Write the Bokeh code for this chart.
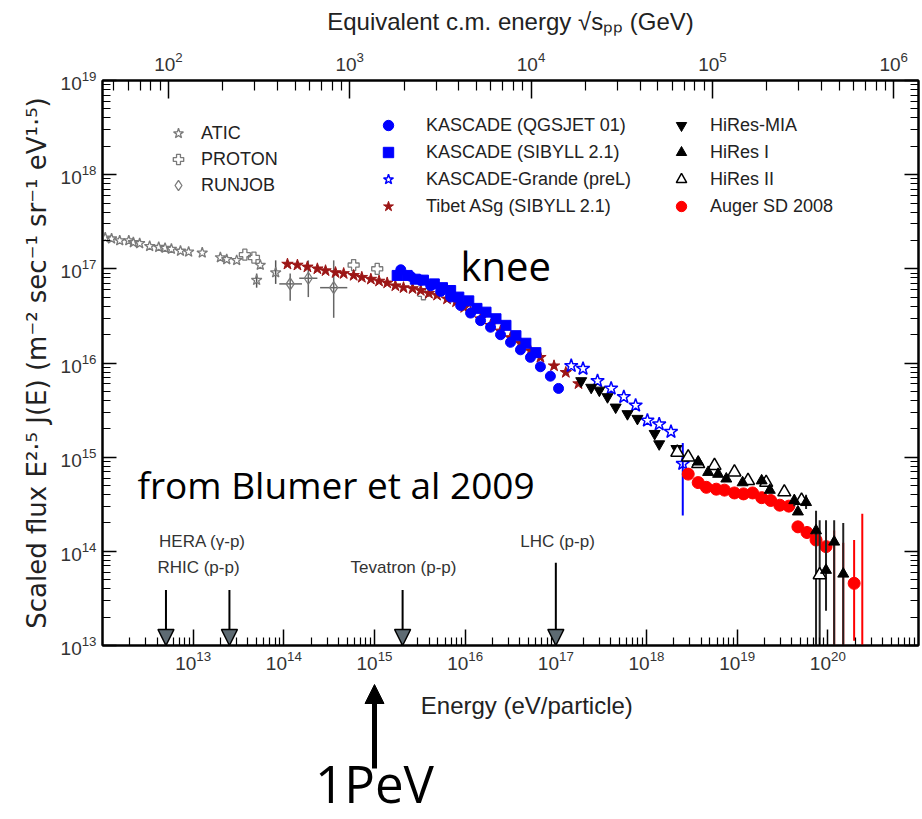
import numpy as np
from bokeh.plotting import figure
from bokeh.layouts import column
from bokeh.models import (Range1d, LogScale, LogAxis, FixedTicker, Legend, LegendItem,
                          Label, Arrow, NormalHead, ColumnDataSource, CustomJSTickFormatter)
from bokeh.core.properties import value
from bokeh.embed import file_html
from bokeh.resources import INLINE

# ---------------- data (log10 E [eV], log10 scaled flux) ----------------
atic_logE = [12.03, 12.10, 12.19, 12.29, 12.34, 12.41, 12.52, 12.62, 12.69, 12.76,
             12.86, 12.95, 13.10, 13.30, 13.37, 13.48, 13.70, 13.74, 13.91]
atic_logF = [17.33, 17.32, 17.30, 17.30, 17.28, 17.27, 17.24, 17.23, 17.22, 17.21,
             17.19, 17.18, 17.17, 17.12, 17.10, 17.09, 16.88, 17.04, 16.96]
atic_err_logE = [13.70, 13.91]
atic_err_lo = [16.80, 16.84]
atic_err_hi = [16.95, 17.09]

proton_logE = [13.57, 13.67, 14.77, 15.03, 15.54]
proton_logF = [17.15, 17.12, 17.04, 17.00, 16.73]

runjob_logE = [14.07, 14.27, 14.55]
runjob_logF = [16.84, 16.90, 16.80]
runjob_err_lo = [16.66, 16.70, 16.48]
runjob_err_hi = [16.95, 17.09, 17.09]
runjob_xerr_lo = [13.95, 14.17, 14.40]
runjob_xerr_hi = [14.20, 14.37, 14.70]

tibet_logE = [14.04, 14.15, 14.26, 14.37, 14.46, 14.57, 14.66, 14.77, 14.86, 14.96,
              15.05, 15.14, 15.23, 15.32, 15.42, 15.51, 15.60, 15.69, 15.80, 15.90,
              15.99, 16.06, 16.17, 16.28, 16.39, 16.50, 16.61, 16.72, 16.83, 16.98,
              17.11, 17.25]
tibet_logF = [17.05, 17.04, 17.02, 17.00, 16.98, 16.96, 16.95, 16.93, 16.91, 16.89,
              16.87, 16.85, 16.82, 16.80, 16.79, 16.77, 16.74, 16.72, 16.68, 16.65,
              16.59, 16.54, 16.47, 16.40, 16.34, 16.27, 16.21, 16.13, 16.06, 15.97,
              15.90, 15.78]

kas_sib_logE = [15.25, 15.36, 15.45, 15.54, 15.66, 15.75, 15.84, 15.93, 16.04, 16.13,
                16.23, 16.34, 16.45, 16.56, 16.67, 16.78]
kas_sib_logF = [16.93, 16.93, 16.89, 16.88, 16.84, 16.80, 16.77, 16.70, 16.66, 16.58,
                16.54, 16.47, 16.40, 16.29, 16.21, 16.11]

kas_qgs_logE = [15.29, 15.40, 15.51, 15.62, 15.73, 15.84, 15.95, 16.06, 16.17, 16.28,
                16.39, 16.50, 16.61, 16.72, 16.83, 16.94, 17.03]
kas_qgs_logF = [16.99, 16.92, 16.88, 16.82, 16.76, 16.70, 16.61, 16.53, 16.45, 16.38,
                16.30, 16.22, 16.14, 16.06, 15.96, 15.86, 15.73]

grande_logE = [17.17, 17.30, 17.46, 17.61, 17.75, 17.88, 18.01, 18.14, 18.27, 18.40]
grande_logF = [15.97, 15.94, 15.81, 15.73, 15.64, 15.55, 15.39, 15.35, 15.27, 14.93]
grande_err_logE = [18.40]
grande_err_lo = [14.38]
grande_err_hi = [15.15]

mia_logE = [17.28, 17.39, 17.48, 17.57, 17.66, 17.79, 17.90, 18.09, 18.14, 18.33]
mia_logF = [15.81, 15.74, 15.71, 15.64, 15.53, 15.46, 15.41, 15.25, 15.14, 15.09]

hires1_logE = [18.57, 18.68, 18.79, 18.88, 19.06, 19.27, 19.36, 19.63, 19.67, 19.76,
               19.87, 19.98, 20.07, 20.17]
hires1_logF = [14.95, 14.84, 14.82, 14.77, 14.73, 14.75, 14.65, 14.54, 14.42, 14.52,
               14.22, 13.80, 14.10, 13.76]

hires2_logE = [18.34, 18.46, 18.57, 18.75, 18.97, 19.12, 19.32, 19.52, 19.71, 19.91]
hires2_logF = [15.05, 15.00, 14.93, 14.91, 14.84, 14.75, 14.73, 14.63, 14.54, 13.75]

hires_err_logE = [19.63, 19.76, 19.87, 19.91, 19.98, 20.07, 20.17]
hires_err_lo = [14.48, 14.45, 12.90, 12.90, 13.37, 12.90, 12.90]
hires_err_hi = [14.60, 14.60, 14.43, 14.33, 14.33, 14.33, 14.30]

auger_logE = [18.46, 18.57, 18.66, 18.77, 18.86, 18.97, 19.07, 19.17, 19.27, 19.37,
              19.47, 19.57, 19.67, 19.77, 19.87, 19.98, 20.29]
auger_logF = [14.82, 14.73, 14.68, 14.66, 14.65, 14.62, 14.61, 14.62, 14.57, 14.54,
              14.49, 14.48, 14.26, 14.20, 14.12, 14.05, 13.66]
auger_err_logE = [19.67, 19.77, 20.07, 20.17, 20.29, 20.38]
auger_err_lo = [14.20, 14.14, 12.90, 12.90, 13.05, 12.90]
auger_err_hi = [14.32, 14.27, 14.22, 14.09, 14.12, 14.40]

# accelerators
accel_names = ["HERA", "RHIC", "Tevatron", "LHC"]
accel_logE = [12.70, 13.40, 15.31, 17.00]
accel_top_logF = [13.59, 13.59, 13.59, 13.88]

# marked energy below the axis
pev_logE = 15.0

# tick exponents
x_major_exp = [13, 14, 15, 16, 17, 18, 19, 20]
y_major_exp = [13, 14, 15, 16, 17, 18, 19]
cm_major_exp = [2, 3, 4, 5, 6]
PROTON_MASS_GEV = 0.938


def pw(a):
    return [10.0 ** v for v in a]


FONT = "Liberation Sans"
X_LO, X_HI = 1e12, 1e21

p = figure(width=920, height=683, x_axis_type="log", y_axis_type="log",
           x_range=Range1d(X_LO, X_HI), y_range=Range1d(1e13, 1e19),
           output_backend="svg", toolbar_location=None,
           min_border_left=102, min_border_right=2, min_border_top=80, min_border_bottom=38,
           y_axis_label="Scaled flux E²·⁵ J(E) (m⁻² sec⁻¹ sr⁻¹ eV¹·⁵)")
p.xgrid.grid_line_color = None
p.ygrid.grid_line_color = None
p.outline_line_color = "black"
p.outline_line_width = 2
p.background_fill_color = "white"
p.border_fill_color = "white"

x_minor = [k * 10.0 ** e for e in range(12, 21) for k in range(2, 10)]
y_minor = [k * 10.0 ** e for e in range(13, 19) for k in range(2, 10)]
cm_minor = [k * 10.0 ** e for e in range(1, 7) for k in range(2, 10)]


def style(ax, maj, mnr, label_size="24px", label_font=FONT):
    ax.major_tick_in = maj
    ax.major_tick_out = 0
    ax.minor_tick_in = mnr
    ax.minor_tick_out = 0
    ax.major_tick_line_color = "black"
    ax.major_tick_line_width = 1.5
    ax.minor_tick_line_color = "black"
    ax.minor_tick_line_width = 1.2
    ax.axis_line_color = "black"
    ax.axis_line_width = 2
    ax.major_label_text_font = FONT
    ax.major_label_text_font_size = "19px"
    ax.major_label_text_color = "#333333"
    ax.axis_label_text_font = label_font
    ax.axis_label_text_font_size = label_size
    ax.axis_label_text_font_style = "normal"
    ax.axis_label_text_color = "#222222"


xb = p.xaxis[0]
xb.ticker = FixedTicker(ticks=pw(x_major_exp), minor_ticks=x_minor)
style(xb, 16, 8)
xb.major_label_standoff = 5

yl = p.yaxis[0]
yl.ticker = FixedTicker(ticks=pw(y_major_exp), minor_ticks=y_minor)
style(yl, 14, 8, "26px", "DejaVu Sans")
yl.major_label_standoff = 6
yl.axis_label_standoff = 6

cm_start = np.sqrt(2 * PROTON_MASS_GEV * X_LO / 1e9)
cm_end = np.sqrt(2 * PROTON_MASS_GEV * X_HI / 1e9)
p.extra_x_ranges = {"cm": Range1d(cm_start, cm_end)}
p.extra_x_scales = {"cm": LogScale()}
top = LogAxis(x_range_name="cm", axis_label="Equivalent c.m. energy √sₚₚ (GeV)",
              ticker=FixedTicker(ticks=pw(cm_major_exp), minor_ticks=cm_minor))
style(top, 18, 10)
top.major_label_standoff = 10
top.axis_label_standoff = 14
p.add_layout(top, "above")

right = LogAxis(ticker=FixedTicker(ticks=pw(y_major_exp), minor_ticks=y_minor),
                formatter=CustomJSTickFormatter(code="return ''"))
style(right, 14, 8)
right.major_label_standoff = 0
p.add_layout(right, "right")

GRAY = "#7a7a7a"
BLUE = "#0000ff"
DRED = "#9c1616"
RED = "#ff0000"


def vbars(logE, lo, hi, color, w=1.5):
    p.segment(x0=pw(logE), y0=pw(lo), x1=pw(logE), y1=pw(hi), line_color=color, line_width=w)


# error bars first
vbars(atic_err_logE, atic_err_lo, atic_err_hi, "#555555")
vbars(runjob_logE, runjob_err_lo, runjob_err_hi, "#666666")
p.segment(x0=pw(runjob_xerr_lo), y0=pw(runjob_logF), x1=pw(runjob_xerr_hi), y1=pw(runjob_logF),
          line_color="#666666", line_width=1.5)

r_atic = p.scatter(pw(atic_logE), pw(atic_logF), marker="star", size=11,
                   line_color=GRAY, fill_color=None, line_width=1.3)
r_proton = p.scatter(pw(proton_logE), pw(proton_logF), marker="plus", size=11,
                     line_color=GRAY, fill_color=None, line_width=1.3)
r_runjob = p.scatter(pw(runjob_logE), pw(runjob_logF), marker="diamond", size=12,
                     line_color=GRAY, fill_color=None, line_width=1.3)
r_tibet = p.scatter(pw(tibet_logE), pw(tibet_logF), marker="star", size=12,
                    line_color=DRED, fill_color=DRED, line_width=1)
r_ksib = p.scatter(pw(kas_sib_logE), pw(kas_sib_logF), marker="square", size=10,
                   line_color=BLUE, fill_color=BLUE)
r_kqgs = p.scatter(pw(kas_qgs_logE), pw(kas_qgs_logF), marker="circle", size=10,
                   line_color=BLUE, fill_color=BLUE)
vbars(grande_err_logE, grande_err_lo, grande_err_hi, BLUE, 2)
r_grande = p.scatter(pw(grande_logE), pw(grande_logF), marker="star", size=14,
                     line_color=BLUE, fill_color=None, line_width=1.5)
vbars(auger_err_logE, auger_err_lo, auger_err_hi, RED, 2)
r_auger = p.scatter(pw(auger_logE), pw(auger_logF), marker="circle", size=12,
                    line_color=RED, fill_color=RED)
vbars(hires_err_logE, hires_err_lo, hires_err_hi, "#222222", 2)
r_mia = p.scatter(pw(mia_logE), pw(mia_logF), marker="inverted_triangle", size=11,
                  line_color="black", fill_color="black")
r_h2 = p.scatter(pw(hires2_logE), pw(hires2_logF), marker="triangle", size=13,
                 line_color="black", fill_color="white", line_width=1.5)
r_h1 = p.scatter(pw(hires1_logE), pw(hires1_logF), marker="triangle", size=11,
                 line_color="black", fill_color="black")


def make_legend(items, vx, vy, standoff, spacing):
    lg = Legend(items=[LegendItem(label=l, renderers=[r]) for l, r in items],
                location=(vx, vy), padding=0, margin=0, spacing=spacing,
                glyph_width=26, glyph_height=26, label_height=20,
                label_standoff=standoff, border_line_alpha=0,
                background_fill_alpha=0, label_text_font=FONT,
                label_text_font_size="18px", label_text_color="#222222")
    p.add_layout(lg, "center")


make_legend([("ATIC", r_atic), ("PROTON", r_proton), ("RUNJOB", r_runjob)], 63, 447, 10, 0)
make_legend([("KASCADE (QGSJET 01)", r_kqgs), ("KASCADE (SIBYLL 2.1)", r_ksib),
             ("KASCADE-Grande (preL)", r_grande), ("Tibet ASg (SIBYLL 2.1)", r_tibet)],
            273, 426, 25, 1)
make_legend([("HiRes-MIA", r_mia), ("HiRes I", r_h1), ("HiRes II", r_h2),
             ("Auger SD 2008", r_auger)], 566, 426, 16, 1)

# accelerator arrows
acc_src = ColumnDataSource(dict(x=pw(accel_logE), y0=pw(accel_top_logF),
                                y1=[p.y_range.start] * len(accel_logE)))
p.add_layout(Arrow(x_start="x", y_start="y0", x_end="x", y_end="y1", source=acc_src,
                   line_color="black", line_width=2,
                   end=NormalHead(size=16, fill_color="#5d6a72", line_color="black",
                                  line_width=1.5)))

for txt, sx, sy in [("HERA (γ-p)", 100, 104), ("RHIC (p-p)", 96, 78),
                    ("Tevatron (p-p)", 301, 78), ("LHC (p-p)", 455, 104)]:
    p.add_layout(Label(x=sx, y=sy, x_units="screen", y_units="screen", text=txt,
                       text_align="center", text_baseline="middle", text_font=FONT,
                       text_font_size="17px", text_color="#333333"))

p.add_layout(Label(x=358, y=380, x_units="screen", y_units="screen", text="knee",
                   text_font="Open Sans", text_font_size="40px", text_color="black",
                   text_baseline="alphabetic"))
p.add_layout(Label(x=35, y=161, x_units="screen", y_units="screen",
                   text="from Blumer et al 2009", text_font="Open Sans",
                   text_font_size="37px", text_color="black", text_baseline="alphabetic"))

# ---------------- strip below the axis: x-axis title and the 1 PeV arrow ----------------
STRIP_H = 135
q = figure(width=920, height=STRIP_H, x_axis_type="log",
           x_range=Range1d(X_LO, X_HI), y_range=Range1d(0, STRIP_H),
           output_backend="svg", toolbar_location=None,
           min_border_left=102, min_border_right=2, min_border_top=0, min_border_bottom=0)
q.axis.visible = False
q.grid.grid_line_color = None
q.outline_line_color = None
q.background_fill_alpha = 0
q.border_fill_alpha = 0

q.text(x=[10 ** 16.68], y=[STRIP_H - 22], text=["Energy (eV/particle)"],
       text_font=value(FONT), text_font_size="24px", text_color="#222222",
       text_align="center", text_baseline="middle")
q.add_layout(Arrow(x_start=10 ** pev_logE, y_start=50, x_end=10 ** pev_logE, y_end=STRIP_H - 1,
                   line_color="black", line_width=5,
                   end=NormalHead(size=19, fill_color="black", line_color="black", line_width=1)))
q.text(x=[10 ** pev_logE], y=[1], text=["1PeV"], text_font=value("Open Sans"),
       text_font_size="51px", text_color="black", text_align="center", text_baseline="bottom")

layout = column(p, q, spacing=0)
open("out.html", "w").write(file_html(layout, INLINE))
